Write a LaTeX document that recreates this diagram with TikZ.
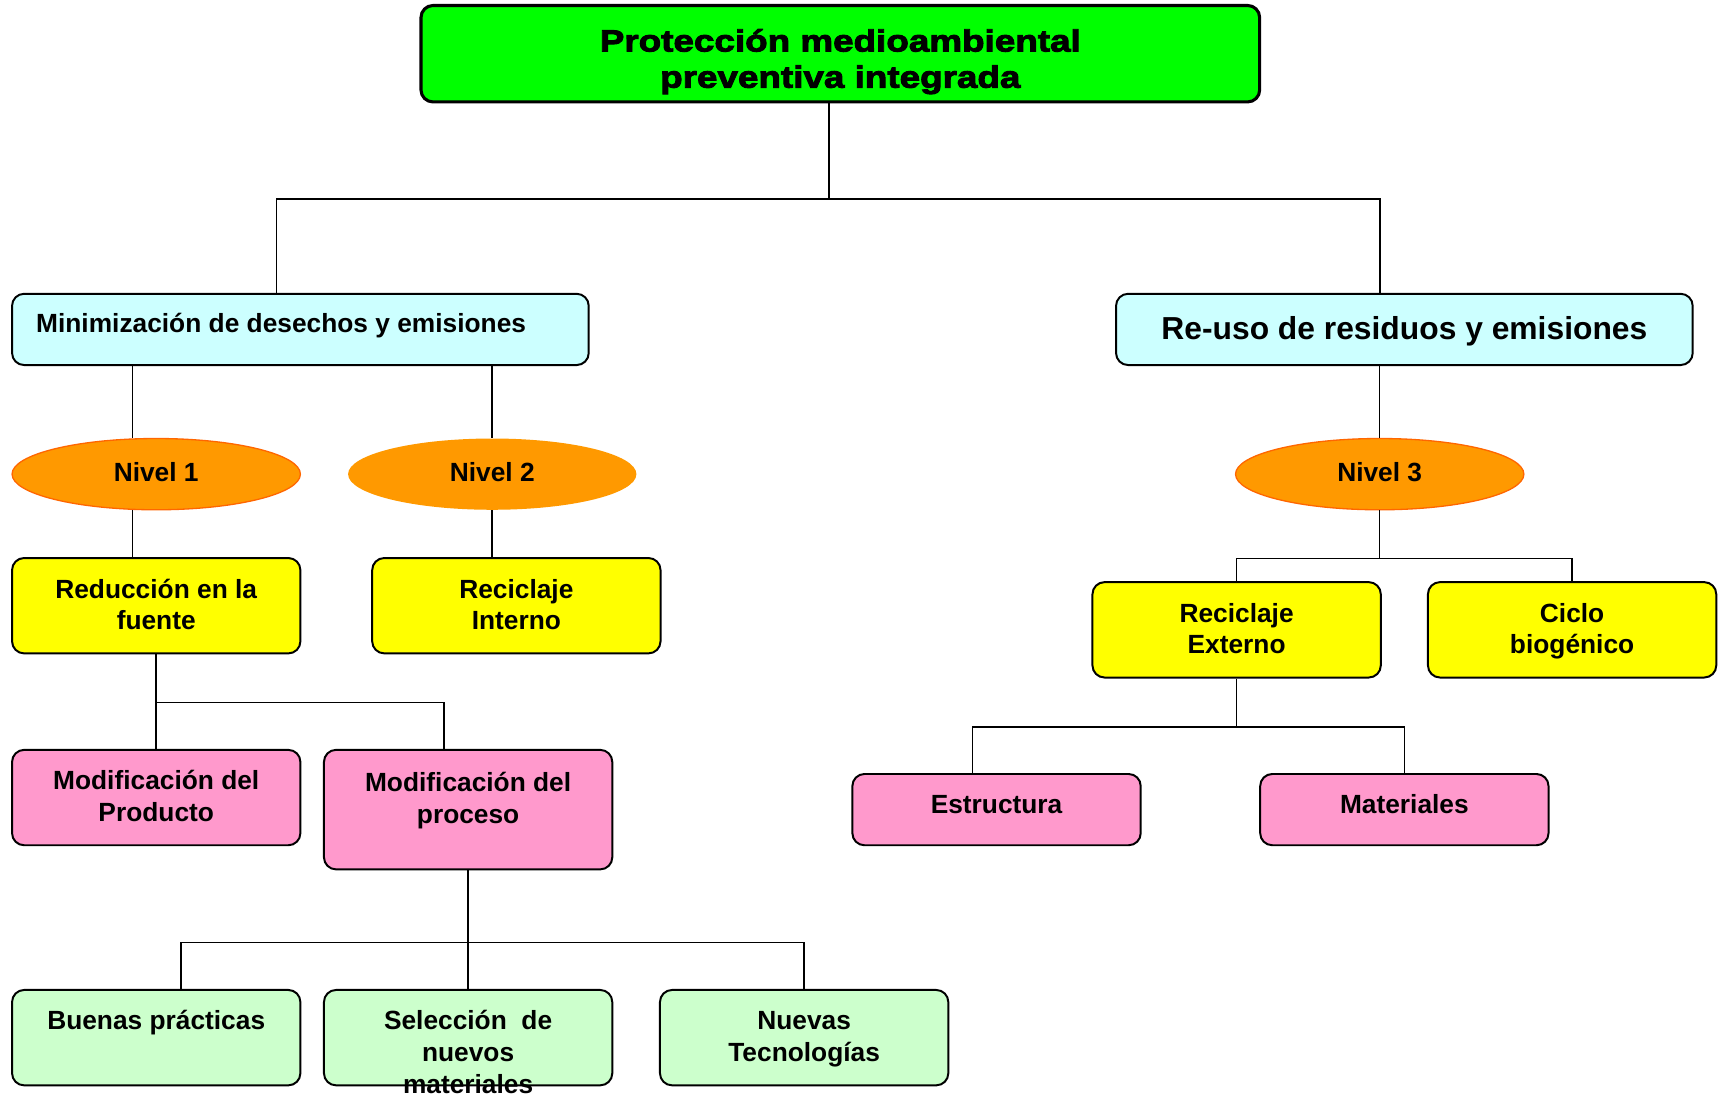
\documentclass[tikz,border=0pt]{standalone}
\usepackage{fontspec}
\setmainfont{Liberation Sans}
\newfontfamily\titlefont{Liberation Sans}[FakeStretch=1.2,BoldFeatures={FakeBold=3}]
\usetikzlibrary{shapes.geometric,calc}
\definecolor{cTop}{HTML}{00FF00}
\definecolor{cCyan}{HTML}{CCFFFF}
\definecolor{cOrange}{HTML}{FF9900}
\definecolor{cOrangeLine}{HTML}{FF6600}
\definecolor{cYellow}{HTML}{FFFF00}
\definecolor{cPink}{HTML}{FF99CC}
\definecolor{cLGreen}{HTML}{CCFFCC}
\newcommand{\ml}[1]{\vtop{\halign{\hfil##\hfil\cr #1\crcr}}}
\begin{document}
\begin{tikzpicture}[x=0.5pt,y=-0.5pt,
  bodyfont/.style={font=\bfseries\fontsize{12}{14.5}\selectfont},
  box/.style={draw=black, line width=0.9pt, rounded corners=5.5pt, inner sep=0pt, bodyfont,
    minimum width=131.5pt, minimum height=43.5pt, text height=18.25pt, text depth=25.25pt},
  shortbox/.style={box, minimum height=32.5pt, text height=18pt, text depth=14.5pt},
  wide/.style={box, minimum width=263pt, minimum height=32.5pt},
  nivel/.style={ellipse, fill=cOrange, draw=cOrangeLine, line width=0.6pt, inner sep=0pt, bodyfont,
    minimum width=131.5pt, minimum height=32.5pt, text height=8.5pt, text depth=1.5pt},
  conn/.style={draw=black, line width=0.7pt}]
\useasboundingbox (0,0) rectangle (1568,999);

% nodes
\node[box, fill=cTop, line width=1.4pt, minimum width=382.5pt, minimum height=44pt,
  text height=21pt, text depth=23pt, font=\titlefont\bfseries\fontsize{14}{16.5}\selectfont]
  (top) at (766.5,49) {\ml{Protección medioambiental\cr preventiva integrada}};

\node[wide, fill=cCyan, inner xsep=11pt, text height=17.75pt, text depth=14.75pt]
  (mini) at (274,300.5) {\makebox[241pt][l]{Minimización de desechos y emisiones}};
\node[wide, fill=cCyan, text height=20.75pt, text depth=11.75pt, font=\bfseries\fontsize{14.5}{17}\selectfont]
  (reuso) at (1281,300.5) {Re-uso de residuos y emisiones};

\node[nivel] (n1) at (142.5,432.5) {Nivel 1};
\node[nivel, draw=none] (n2) at (449,432.5) {Nivel 2};
\node[nivel] (n3) at (1258.5,432.5) {Nivel 3};

\node[box, fill=cYellow] (red) at (142.5,552.5) {\ml{Reducción en la\cr fuente}};
\node[box, fill=cYellow] (rint) at (471,552.5) {\ml{Reciclaje\cr Interno}};
\node[box, fill=cYellow] (rext) at (1128,574.5) {\ml{Reciclaje\cr Externo}};
\node[box, fill=cYellow] (ciclo) at (1434,574.5) {\ml{Ciclo\cr biogénico}};

\node[box, fill=cPink] (mprod) at (142.5,727.5) {\ml{Modificación del\cr Producto}};
\node[box, fill=cPink, minimum height=54.5pt, text height=19pt, text depth=35.5pt]
  (mproc) at (427,738.5) {\ml{Modificación del\cr proceso}};
\node[shortbox, fill=cPink] (estr) at (909,738.5) {Estructura};
\node[shortbox, fill=cPink] (mat) at (1281,738.5) {Materiales};

\node[box, fill=cLGreen] (buenas) at (142.5,946.5) {\ml{Buenas prácticas}};
\node[box, fill=cLGreen] (selec) at (427,946.5) {\ml{Selección \ de\cr nuevos\cr materiales}};
\node[box, fill=cLGreen] (nuevas) at (733.5,946.5) {\ml{Nuevas\cr Tecnologías}};

% connectors
\coordinate (j1) at ($(top.south)+(-10.5,87)$);
\draw[conn] ([xshift=-5.25pt]top.south) -- (j1);
\draw[conn] ([xshift=-11pt]mini.north) |- (j1) -| ([xshift=-11pt]reuso.north);

\coordinate (c121) at (121,0);
\draw[conn] (mini.south -| c121) -- (n1.north -| c121);
\draw[conn] (n1.south -| c121) -- (red.north -| c121);
\draw[conn] (mini.south -| n2.north) -- (n2.north);
\draw[conn] (n2.south) -- (n2.south |- rint.north);

\draw[conn] (reuso.south -| n3.north) -- (n3.north);
\draw[conn] (n3.south) -- ++(0,44) coordinate (j3);
\draw[conn] (rext.north) |- (j3) -| (ciclo.north);

\draw[conn] (red.south) -- (mprod.north);
\draw[conn] (red.south) -- ++(0,44) coordinate (j5) -| ([xshift=-11pt]mproc.north);

\draw[conn] (mproc.south) -- (selec.north);
\coordinate (j6) at ($(mproc.south)+(0,66)$);
\draw[conn] ([xshift=11.25pt]buenas.north) |- (j6) -| (nuevas.north);

\draw[conn] (rext.south) -- ++(0,44) coordinate (j7);
\draw[conn] ([xshift=-11pt]estr.north) |- (j7) -| (mat.north);
\end{tikzpicture}
\end{document}
